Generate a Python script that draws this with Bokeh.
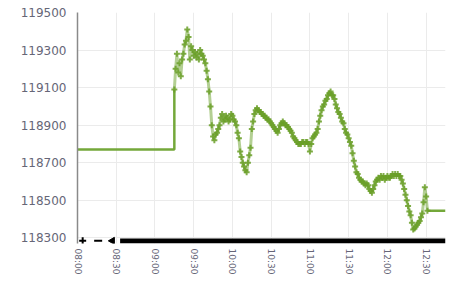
from bokeh.plotting import figure
from bokeh.models import ColumnDataSource, Range1d, FixedTicker
from bokeh.embed import file_html
from bokeh.resources import INLINE
import numpy as np

# ---- data (minutes after 08:00) ----
x_tick_minutes = [0, 30, 60, 90, 120, 150, 180, 210, 240, 270]
x_tick_labels = ["08:00", "08:30", "09:00", "09:30", "10:00",
                 "10:30", "11:00", "11:30", "12:00", "12:30"]
y_ticks = [118300, 118500, 118700, 118900, 119100, 119300, 119500]
y_tick_labels = ["118300", "118500", "118700", "118900", "119100", "119300", "119500"]

prev_close = 118770
first_minute = 75
last_level = 118445
end_minute = 285
prices = [
    119090, 119200, 119280, 119180, 119230, 119160, 119250, 119280, 119330, 119350,
    119410, 119370, 119250, 119320, 119300, 119270, 119290, 119260, 119280, 119250,
    119300, 119280, 119270, 119250, 119230, 119190, 119145, 119080, 119000, 118900,
    118840, 118820, 118850, 118860, 118880, 118900, 118940, 118960, 118920, 118930,
    118950, 118940, 118920, 118930, 118960, 118950, 118930, 118920, 118900, 118860,
    118830, 118760, 118730, 118700, 118680, 118660, 118650, 118700, 118740, 118780,
    118880, 118920, 118960, 118980, 118990, 118980, 118970, 118970, 118960, 118950,
    118950, 118940, 118930, 118930, 118920, 118910, 118900, 118890, 118880, 118870,
    118860, 118880, 118900, 118910, 118920, 118910, 118900, 118900, 118890, 118880,
    118870, 118860, 118840, 118830, 118820, 118810, 118800, 118800, 118800, 118810,
    118810, 118800, 118810, 118810, 118800, 118760, 118800, 118830, 118840, 118850,
    118860, 118880, 118920, 118950, 118980, 119000, 119010, 119030, 119040, 119060,
    119070, 119080, 119060, 119060, 119040, 119010, 118990, 118970, 118960, 118940,
    118920, 118910, 118880, 118860, 118850, 118830, 118810, 118790, 118750, 118710,
    118680, 118650, 118640, 118620, 118610, 118600, 118600, 118590, 118580, 118590,
    118580, 118560, 118550, 118540, 118560, 118580, 118600, 118610, 118620, 118610,
    118630, 118620, 118630, 118610, 118620, 118630, 118620, 118620, 118630, 118640,
    118630, 118640, 118630, 118640, 118630, 118630, 118610, 118590, 118560, 118530,
    118500, 118470, 118440, 118420, 118380, 118345, 118350, 118360, 118370, 118380,
    118390, 118410, 118430, 118490, 118570, 118520, 118445,
]
minutes = list(range(first_minute, first_minute + len(prices)))

src = ColumnDataSource(data=dict(m=minutes, p=prices))

GREEN = "#74a83a"
FONT = "DejaVu Sans"

p = figure(width=447, height=277, output_backend="svg", toolbar_location=None,
           x_range=Range1d(0, end_minute), y_range=Range1d(118270, 119500),
           min_border_left=77, min_border_right=2, min_border_top=12,
           min_border_bottom=30)
p.outline_line_color = None
p.background_fill_color = "white"

# grid
p.xgrid.ticker = FixedTicker(ticks=x_tick_minutes)
p.ygrid.ticker = FixedTicker(ticks=y_ticks)
p.xgrid.grid_line_color = "#ebebeb"
p.ygrid.grid_line_color = "#ebebeb"

# y axis
ya = p.yaxis[0]
ya.ticker = FixedTicker(ticks=y_ticks)
ya.major_label_overrides = {t: lab for t, lab in zip(y_ticks, y_tick_labels)}
ya.axis_line_color = "#8a8a8a"
ya.axis_line_width = 1.5
ya.major_tick_line_color = None
ya.minor_tick_line_color = None
ya.major_label_standoff = 5
ya.major_label_text_font = FONT
ya.major_label_text_font_size = "12px"
ya.major_label_text_color = "#666677"

# x axis
xa = p.xaxis[0]
xa.ticker = FixedTicker(ticks=x_tick_minutes)
xa.major_label_overrides = {m: lab for m, lab in zip(x_tick_minutes, x_tick_labels)}
xa.major_label_orientation = "vertical"
xa.axis_line_color = None
xa.major_tick_line_color = None
xa.major_tick_out = 0
xa.minor_tick_line_color = None
xa.major_label_standoff = 5
xa.major_label_text_font = FONT
xa.major_label_text_font_size = "9px"
xa.major_label_text_color = "#666677"

# flat segments (previous close before open, last level after close)
p.line([0, first_minute, first_minute], [prev_close, prev_close, prices[0]],
       line_color=GREEN, line_width=2.5)
p.line([minutes[-1], end_minute], [last_level, last_level],
       line_color=GREEN, line_width=2.5)

# intraday series
p.line("m", "p", source=src, line_color=GREEN, line_width=3, line_alpha=0.55)
p.scatter("m", "p", source=src, marker="cross", size=6, line_width=2,
          line_color="#6a9f28", line_alpha=0.85)

# navigator bar and controls below the plot
p.quad(left=[33], right=[end_minute], bottom=[118270], top=[118297],
       fill_color="black", line_color=None)
p.scatter([4], [118284], marker="cross", size=7, line_width=2, line_color="black")
p.scatter([16], [118284], marker="dash", size=8, line_width=2, line_color="black")
p.scatter([27], [118284], marker="triangle", size=7, angle=np.pi / 2,
          fill_color="black", line_color="black")

open("out.html", "w").write(file_html(p, INLINE))
